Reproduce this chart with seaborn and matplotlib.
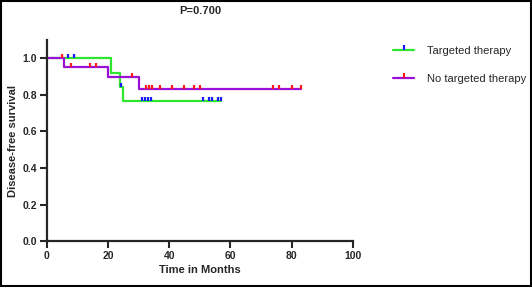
import matplotlib
matplotlib.use("Agg")
import matplotlib.pyplot as plt
import numpy as np
import pandas as pd
import seaborn as sns
from matplotlib.lines import Line2D
from matplotlib.path import Path
from matplotlib.patches import Rectangle

# Kaplan-Meier steps
tt_time = [0, 21, 24, 25, 57]
tt_surv = [1.0, 0.923, 0.846, 0.769, 0.769]
tt_cens_time = [7, 9, 24.3, 31, 32, 33, 34, 51, 53, 54, 56, 57]
tt_cens_surv = [1.0, 1.0, 0.846, 0.769, 0.769, 0.769, 0.769, 0.769, 0.769, 0.769, 0.769, 0.769]

nt_time = [0, 5.7, 20, 30, 83]
nt_surv = [1.0, 0.955, 0.9, 0.833, 0.833]
nt_cens_time = [5, 8, 14, 16, 28, 32.3, 33.3, 34.3, 37, 41, 45, 48, 50, 74, 76, 80, 83]
nt_cens_surv = [1.0, 0.955, 0.955, 0.955, 0.9] + [0.833] * 12

labels = ["Targeted therapy", "No targeted therapy"]
line_colors = ["#2ee62e", "#9a10d8"]
cens_colors = ["#1a1aff", "#ff1a1a"]
x_ticks = [0, 20, 40, 60, 80, 100]
y_ticks = [0.0, 0.2, 0.4, 0.6, 0.8, 1.0]

sns.set_style("ticks")
plt.rcParams["font.family"] = ["Liberation Sans", "DejaVu Sans"]

fig = plt.figure(figsize=(5.32, 2.87), dpi=100)
ax = fig.add_axes([0.088, 0.160, 0.575, 0.70])

tick_up = Path([(0, 0), (0, 1)], [Path.MOVETO, Path.LINETO])

curves = [(tt_time, tt_surv, tt_cens_time, tt_cens_surv),
          (nt_time, nt_surv, nt_cens_time, nt_cens_surv)]
for i, (t, s, ct, cs) in enumerate(curves):
    df = pd.DataFrame({"t": t, "s": s})
    sns.lineplot(data=df, x="t", y="s", drawstyle="steps-post", color=line_colors[i],
                 lw=1.6, ax=ax, zorder=2)
    cdf = pd.DataFrame({"t": ct, "s": cs})
    sns.scatterplot(data=cdf, x="t", y="s", marker=tick_up, s=30, color=cens_colors[i],
                    edgecolor=cens_colors[i], linewidth=1.6, ax=ax, zorder=3)

ax.set_xlim(0, 100)
ax.set_ylim(0, 1.1)
ax.set_xticks(x_ticks)
ax.set_yticks(y_ticks)
ax.set_yticklabels([f"{v:.1f}" for v in y_ticks])
ax.tick_params(width=1.5, length=5, labelsize=7.5, pad=2)
for lab in ax.get_xticklabels() + ax.get_yticklabels():
    lab.set_fontweight("bold")
for sp in ["left", "bottom"]:
    ax.spines[sp].set_linewidth(1.6)
sns.despine(ax=ax)
ax.set_xlabel("Time in Months", fontsize=8, fontweight="bold", labelpad=3)
ax.set_ylabel("Disease-free survival", fontsize=8, fontweight="bold", labelpad=3)
fig.text(0.376, 0.962, "P=0.700", fontsize=8, fontweight="bold", ha="center", va="center")

handles = [Line2D([], [], color=line_colors[i], lw=1.6, marker=tick_up, markersize=7,
                  markeredgecolor=cens_colors[i], markerfacecolor=cens_colors[i],
                  markeredgewidth=1.6) for i in range(2)]
fig.legend(handles, labels, loc="upper left", bbox_to_anchor=(0.72, 0.875), frameon=False,
           numpoints=1, labelspacing=1.63, handlelength=1.9, handletextpad=1.2,
           prop={"weight": "normal", "size": 8})

fig.patches.append(Rectangle((0.002, 0.003), 0.996, 0.994, transform=fig.transFigure,
                             fill=False, edgecolor="black", lw=1.5))

fig.savefig("out.png", dpi=100)
